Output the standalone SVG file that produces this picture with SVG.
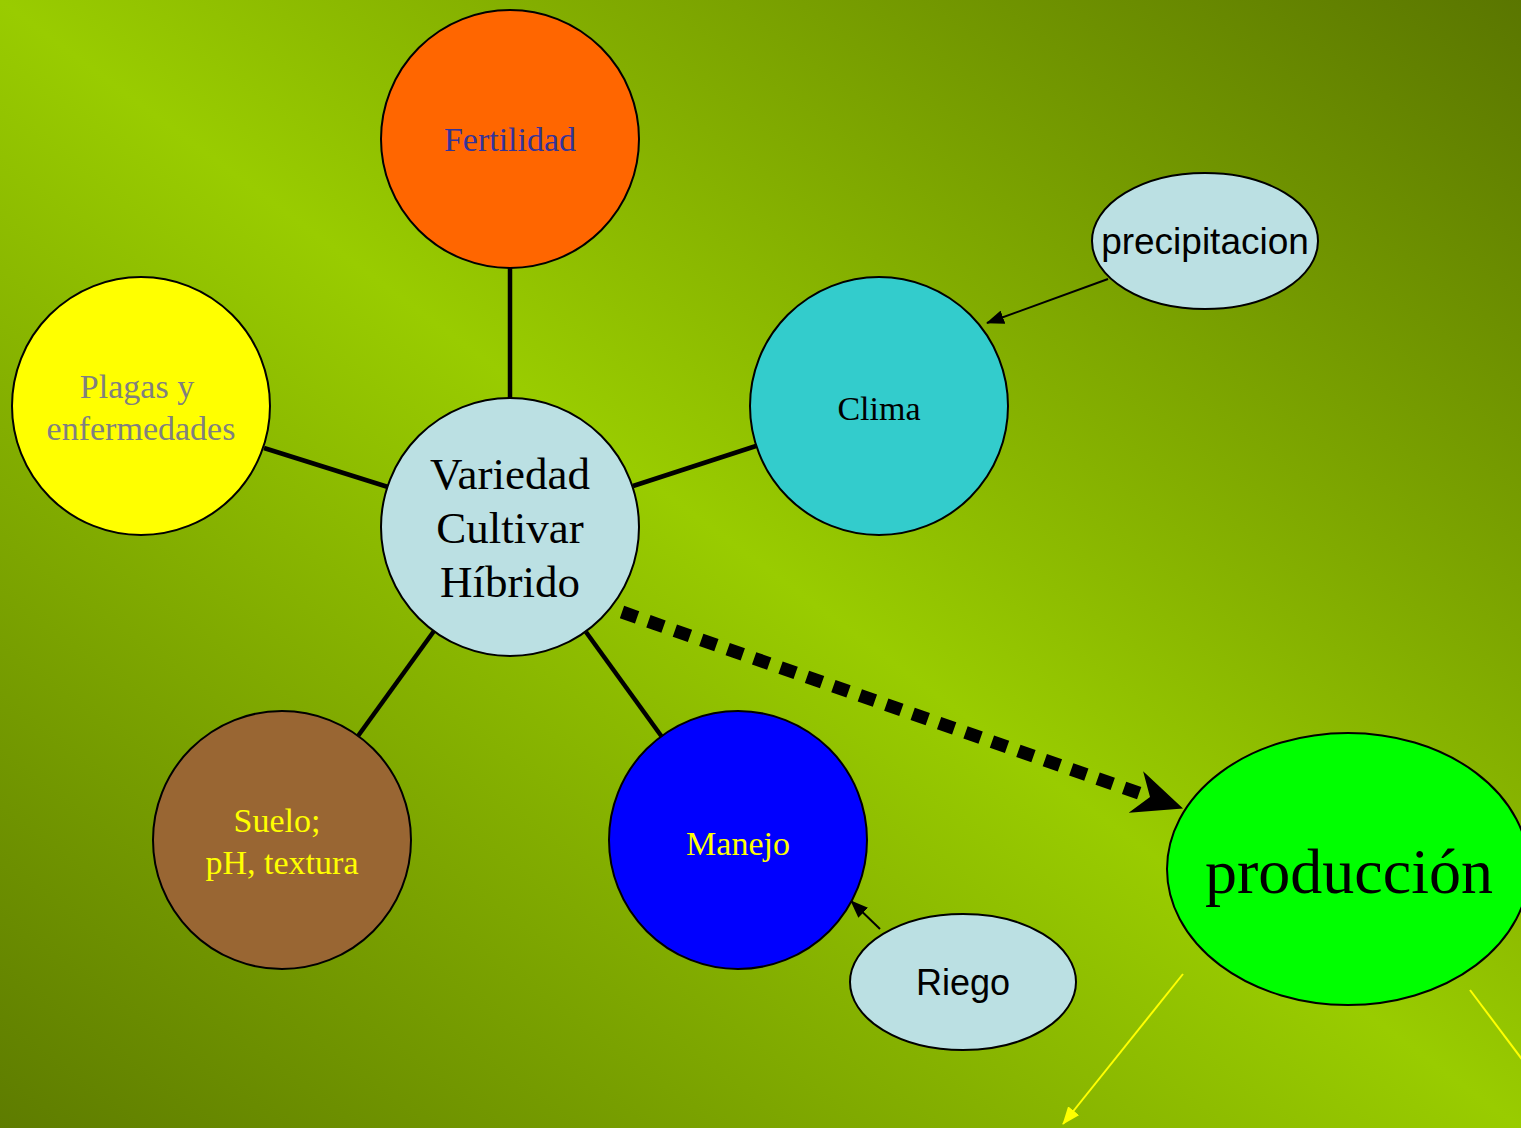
<svg xmlns="http://www.w3.org/2000/svg" width="1521" height="1128" viewBox="0 0 1521 1128">
<defs>
<linearGradient id="bg" x1="1" y1="0" x2="0" y2="1">
<stop offset="0" stop-color="#5a7600"/>
<stop offset="0.5" stop-color="#99cc00"/>
<stop offset="1" stop-color="#5e7c00"/>
</linearGradient>
<marker id="stealth" markerUnits="userSpaceOnUse" viewBox="0 0 50 44" markerWidth="50" markerHeight="44" refX="15" refY="22" orient="auto">
<path d="M0,0 L50,22 L0,44 L15,22 z" fill="#000"/>
</marker>
<marker id="tri" markerUnits="userSpaceOnUse" viewBox="0 0 18 14" markerWidth="18" markerHeight="14" refX="17" refY="7" orient="auto">
<path d="M0,0 L18,7 L0,14 z" fill="#000"/>
</marker>
<marker id="triY" markerUnits="userSpaceOnUse" viewBox="0 0 18 14" markerWidth="18" markerHeight="14" refX="17" refY="7" orient="auto">
<path d="M0,0 L18,7 L0,14 z" fill="#ffff00"/>
</marker>
</defs>
<style>
.n{stroke:#000;stroke-width:2}
.serif{font-family:"Liberation Serif","Times New Roman",serif;text-anchor:middle}
.sans{font-family:"Liberation Sans",Arial,sans-serif;text-anchor:middle}
.spoke{stroke:#000;stroke-width:4.5;fill:none}
.thin{stroke:#000;stroke-width:2;fill:none}
.yl{stroke:#ffff00;stroke-width:2;fill:none}
</style>
<rect x="0" y="0" width="1521" height="1128" fill="url(#bg)"/>
<g id="connectors">
<line class="spoke" x1="510" y1="268" x2="510" y2="398"/>
<line class="spoke" x1="264" y1="448" x2="388" y2="487"/>
<line class="spoke" x1="756" y1="446" x2="633" y2="486"/>
<line class="spoke" x1="358" y1="736" x2="434" y2="631"/>
<line class="spoke" x1="586" y1="632" x2="662" y2="737"/>
<line x1="622" y1="612" x2="1150" y2="797" stroke="#000" stroke-width="13" stroke-dasharray="16 12" marker-end="url(#stealth)"/>
<line class="thin" x1="1108" y1="279" x2="987" y2="323" marker-end="url(#tri)"/>
<line class="thin" x1="880" y1="929" x2="851" y2="901" marker-end="url(#tri)"/>
<line class="yl" x1="1183" y1="974" x2="1063" y2="1124" marker-end="url(#triY)"/>
<line class="yl" x1="1470" y1="990" x2="1545" y2="1090"/>
</g>
<g id="fertilidad">
<circle class="n" cx="510" cy="139" r="129" fill="#ff6600"/>
<text class="serif" x="510" y="151" font-size="34" fill="#333399">Fertilidad</text>
</g>
<g id="plagas">
<circle class="n" cx="141" cy="406" r="129" fill="#ffff00"/>
<text class="serif" font-size="34" fill="#808080"><tspan x="137" y="398">Plagas y</tspan><tspan x="141" y="440">enfermedades</tspan></text>
</g>
<g id="clima">
<circle class="n" cx="879" cy="406" r="129" fill="#33cccc"/>
<text class="serif" x="879" y="420" font-size="34" fill="#000">Clima</text>
</g>
<g id="variedad">
<circle class="n" cx="510" cy="527" r="129" fill="#bbe0e3"/>
<text class="serif" font-size="45" fill="#000"><tspan x="510" y="489">Variedad</tspan><tspan x="510" y="543">Cultivar</tspan><tspan x="510" y="597">Híbrido</tspan></text>
</g>
<g id="suelo">
<circle class="n" cx="282" cy="840" r="129" fill="#996633"/>
<text class="serif" font-size="34" fill="#ffff00"><tspan x="277" y="832">Suelo;</tspan><tspan x="282" y="874">pH, textura</tspan></text>
</g>
<g id="manejo">
<circle class="n" cx="738" cy="840" r="129" fill="#0000ff"/>
<text class="serif" x="738" y="855" font-size="34" fill="#ffff00">Manejo</text>
</g>
<g id="precipitacion">
<ellipse class="n" cx="1205" cy="241" rx="113" ry="68" fill="#bbe0e3"/>
<text class="sans" x="1205" y="254" font-size="37" fill="#000">precipitacion</text>
</g>
<g id="riego">
<ellipse class="n" cx="963" cy="982" rx="113" ry="68" fill="#bbe0e3"/>
<text class="sans" x="963" y="995" font-size="36" fill="#000">Riego</text>
</g>
<g id="produccion">
<ellipse class="n" cx="1348" cy="869" rx="181" ry="136" fill="#00ff00"/>
<text class="serif" x="1349" y="893" font-size="64" fill="#000">producción</text>
</g>
</svg>
